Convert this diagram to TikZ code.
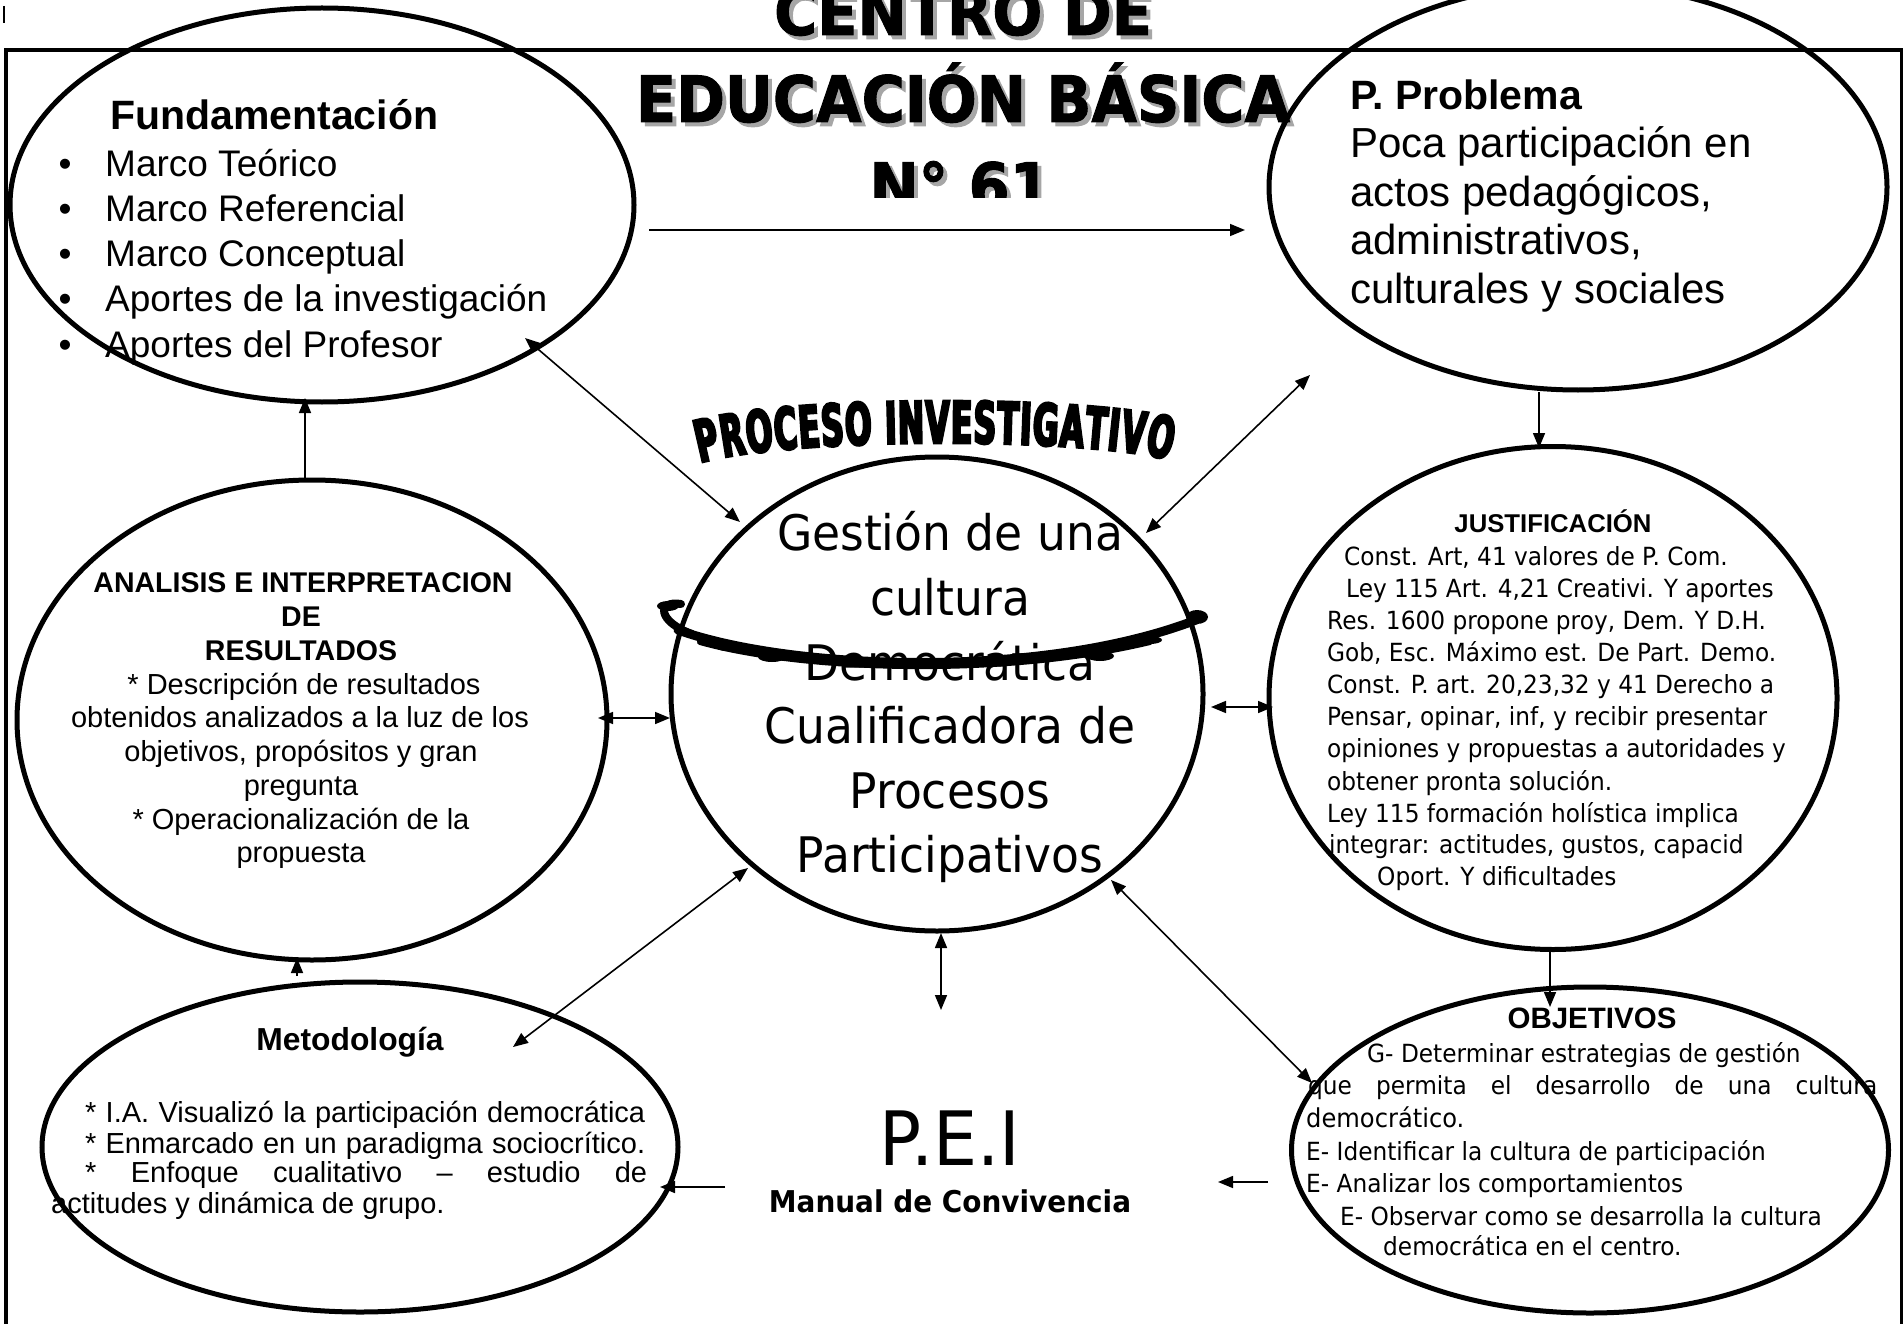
\documentclass[tikz,border=0pt]{standalone}
\usepackage{fontspec}
\setmainfont{Liberation Sans}
\newfontfamily\tah{DejaVu Sans}[FakeStretch=0.93]
\newfontfamily\ttlfont{DejaVu Sans}[FakeStretch=0.92, BoldFeatures={FakeBold=1.5}]
\newfontfamily\wafont{DejaVu Sans}[FakeStretch=0.54, BoldFeatures={FakeBold=4}]
\usetikzlibrary{shapes.geometric,arrows.meta,decorations.text}
\newcommand\fsz[1]{\fontsize{#1}{#1}\selectfont}
\begin{document}
\begin{tikzpicture}[x=1pt,y=-1pt,
  oval/.style={draw, ellipse, line width=5pt, inner sep=0pt},
  conn/.style={line width=1.6pt, -{Triangle[length=15pt,width=12pt]}},
  biconn/.style={line width=1.6pt, {Triangle[length=15pt,width=12pt]}-{Triangle[length=15pt,width=12pt]}},
  txt/.style={inner sep=0pt, anchor=base west},
  ctxt/.style={inner sep=0pt, anchor=base},
  shadowtxt/.style={inner sep=0pt, anchor=base, text=black!35},
  ttl/.style={font=\ttlfont\bfseries\fsz{64}},
  squig/.style={line cap=round, line join=round},
]
\useasboundingbox (0,0) rectangle (1903,1324);
\fill[white] (0,0) rectangle (1903,1324);

% frame
\draw[line width=4pt] (6,1330) -- (6,50) -- (1905,50);
\draw[line width=3pt] (1901,50) -- (1901,1330);
\draw[line width=1.5pt] (4,6) -- (4,23);

% title
\node[shadowtxt, ttl] (t1s) at (967,39) {CENTRO DE};
\node[ctxt, ttl] (t1) at (963,35) {CENTRO DE};
\node[shadowtxt, ttl] (t2s) at (967,126) {EDUCACIÓN BÁSICA};
\node[ctxt, ttl] (t2) at (963,122) {EDUCACIÓN BÁSICA};
\begin{scope}
\clip (700,140) rectangle (1200,198);
\node[shadowtxt, ttl] (t3s) at (964,213) {N° 61};
\node[ctxt, ttl] (t3) at (960,209) {N° 61};
\end{scope}

% ellipses
\node[oval, minimum width=624pt, minimum height=394pt] (fund) at (322,205) {};
\node[oval, minimum width=618pt, minimum height=406pt] (pp) at (1578,187) {};
\node[oval, minimum width=590pt, minimum height=480pt] (anal) at (312,720) {};
\node[oval, minimum width=532pt, minimum height=474pt] (gest) at (937,694) {};
\node[oval, minimum width=568pt, minimum height=503pt] (just) at (1553,698) {};
\node[oval, minimum width=636pt, minimum height=330pt] (meto) at (360,1147) {};
\node[oval, minimum width=597pt, minimum height=326pt] (obj) at (1590,1150) {};

% Fundamentacion
\node[txt, font=\bfseries\fsz{41}] (fundT) at (110,130) {Fundamentación};
\node[ctxt, font=\fsz{37}] (fb1) at (65,177) {•};
\node[ctxt, font=\fsz{37}] (fb2) at (65,222) {•};
\node[ctxt, font=\fsz{37}] (fb3) at (65,267) {•};
\node[ctxt, font=\fsz{37}] (fb4) at (65,312) {•};
\node[ctxt, font=\fsz{37}] (fb5) at (65,357) {•};
\node[txt, font=\fsz{37}] (f1) at (105,177) {Marco Teórico};
\node[txt, font=\fsz{37}] (f2) at (105,222) {Marco Referencial};
\node[txt, font=\fsz{37}] (f3) at (105,267) {Marco Conceptual};
\node[txt, font=\fsz{37}] (f4) at (105,312) {Aportes de la investigación};
\node[txt, font=\fsz{37}] (f5) at (105,357) {Aportes del Profesor};

% P. Problema
\node[txt, font=\bfseries\fsz{41}] (ppT) at (1350,110) {P. Problema};
\node[txt, font=\fsz{42}] (p1) at (1350,158) {Poca participación en};
\node[txt, font=\fsz{42}] (p2) at (1350,207) {actos pedagógicos,};
\node[txt, font=\fsz{42}] (p3) at (1350,255) {administrativos,};
\node[txt, font=\fsz{42}] (p4) at (1350,303) {culturales y sociales};

% Analisis
\node[ctxt, font=\bfseries\fsz{28.5}] (aT1) at (303,592) {ANALISIS E INTERPRETACION};
\node[ctxt, font=\bfseries\fsz{28.5}] (aT2) at (301,626) {DE};
\node[ctxt, font=\bfseries\fsz{28.5}] (aT3) at (301,660) {RESULTADOS};
\node[ctxt, font=\fsz{29}] (a1) at (304,694) {* Descripción de resultados};
\node[ctxt, font=\fsz{29}] (a2) at (300,727) {obtenidos analizados a la luz de los};
\node[ctxt, font=\fsz{29}] (a3) at (301,761) {objetivos, propósitos y gran};
\node[ctxt, font=\fsz{29}] (a4) at (301,795) {pregunta};
\node[ctxt, font=\fsz{29}] (a5) at (301,829) {* Operacionalización de la};
\node[ctxt, font=\fsz{29}] (a6) at (301,862) {propuesta};

% Gestion
\node[ctxt, font=\tah\fsz{49}] (g1) at (950,550) {Gestión de una};
\node[ctxt, font=\tah\fsz{49}] (g2) at (950,615) {cultura};
\node[ctxt, font=\tah\fsz{49}] (g3) at (950,680) {Democrática};
\node[ctxt, font=\tah\fsz{49}] (g4) at (950,743) {Cualificadora de};
\node[ctxt, font=\tah\fsz{49}] (g5) at (950,808) {Procesos};
\node[ctxt, font=\tah\fsz{49}] (g6) at (950,872) {Participativos};

% squiggle over Gestion
\draw[squig, line width=9pt] (678,630) .. controls (790,670) and (1040,680) .. (1196,620);
\draw[squig, line width=6pt] (700,642) .. controls (800,670) and (1000,678) .. (1150,642);
\draw[squig, line width=8pt] (681,604) .. controls (656,600) and (658,622) .. (692,634);
\fill (668,606) ellipse (11 and 5);
\fill (1197,617) ellipse (11 and 7);
\fill (727,646) ellipse (12 and 5);
\fill (772,657) ellipse (14 and 5);
\fill (1100,656) ellipse (14 and 5);
\fill (1150,640) ellipse (12 and 4);

% PROCESO INVESTIGATIVO
\path[decorate, decoration={text along path,
   text={|\wafont\bfseries\fsz{58}|PROCESO INVESTIGATIVO},
   text align={fit to path}}]
  (700,463) .. controls (790,437) and (1080,437) .. (1170,460);

% Justificacion
\node[ctxt, font=\bfseries\fsz{25.7}] (jT) at (1553,532) {JUSTIFICACIÓN};
\node[txt, font=\tah\fsz{25}] (j1) at (1344,565) {Const. Art, 41 valores de P. Com.};
\node[txt, font=\tah\fsz{25}] (j2) at (1346,597) {Ley 115 Art. 4,21 Creativi. Y aportes};
\node[txt, font=\tah\fsz{25}] (j3) at (1327,629) {Res. 1600 propone proy, Dem. Y D.H.};
\node[txt, font=\tah\fsz{25}] (j4) at (1327,661) {Gob, Esc. Máximo est. De Part. Demo.};
\node[txt, font=\tah\fsz{25}] (j5) at (1327,693) {Const. P. art. 20,23,32 y 41 Derecho a};
\node[txt, font=\tah\fsz{25}] (j6) at (1327,725) {Pensar, opinar, inf, y recibir presentar};
\node[txt, font=\tah\fsz{25}] (j7) at (1327,757) {opiniones y propuestas a autoridades y};
\node[txt, font=\tah\fsz{25}] (j8) at (1327,790) {obtener pronta solución.};
\node[txt, font=\tah\fsz{25}] (j9) at (1327,822) {Ley 115 formación holística implica};
\node[txt, font=\tah\fsz{25}] (j10) at (1329,853) {integrar: actitudes, gustos, capacid};
\node[txt, font=\tah\fsz{25}] (j11) at (1377,885) {Oport. Y dificultades};

% Objetivos
\node[ctxt, font=\bfseries\fsz{29.5}] (oT) at (1592,1028) {OBJETIVOS};
\node[txt, font=\tah\fsz{25}] (o1) at (1367,1062) {G- Determinar estrategias de gestión};
\node[txt, font=\tah\fsz{25}] (o2) at (1308,1094) {\makebox[569pt][s]{que permita el desarrollo de una cultura}};
\node[txt, font=\tah\fsz{26}] (o3) at (1306,1127) {democrático.};
\node[txt, font=\tah\fsz{25}] (o4) at (1306,1160) {E- Identificar la cultura de participación};
\node[txt, font=\tah\fsz{25}] (o5) at (1306,1192) {E- Analizar los comportamientos};
\node[txt, font=\tah\fsz{25}] (o6) at (1340,1225) {E- Observar como se desarrolla la cultura};
\node[txt, font=\tah\fsz{25}] (o7) at (1383,1255) {democrática en el centro.};

% Metodologia
\node[ctxt, font=\bfseries\fsz{31.8}] (mT) at (350,1050) {Metodología};
\node[txt, font=\fsz{29}] (m1) at (85,1122) {\makebox[560pt][s]{* I.A. Visualizó la participación democrática}};
\node[txt, font=\fsz{29}] (m2) at (85,1153) {\makebox[560pt][s]{* Enmarcado en un paradigma sociocrítico.}};
\node[txt, font=\fsz{29}] (m3) at (85,1182) {\makebox[562pt][s]{* Enfoque cualitativo – estudio de}};
\node[txt, font=\fsz{29}] (m4) at (51,1213) {actitudes y dinámica de grupo.};

% PEI
\node[ctxt, font=\tah\fsz{75}] (pei) at (950,1165) {P.E.I};
\node[ctxt, font=\tah\bfseries\fsz{30}] (manual) at (950,1212) {Manual de Convivencia};

% connector end points
\coordinate (c1a) at (649,230);   \coordinate (c1b) at (1245,230);
\coordinate (c2a) at (305,480);   \coordinate (c2b) at (305,398);
\coordinate (c3a) at (297,976);   \coordinate (c3b) at (297,958);
\coordinate (c4a) at (525,338);   \coordinate (c4b) at (740,522);
\coordinate (c5a) at (1310,375);  \coordinate (c5b) at (1146,533);
\coordinate (c6a) at (598,718);   \coordinate (c6b) at (670,718);
\coordinate (c7a) at (1211,707);  \coordinate (c7b) at (1273,707);
\coordinate (c8a) at (1539,392);  \coordinate (c8b) at (1539,448);
\coordinate (c9a) at (1550,952);  \coordinate (c9b) at (1550,1007);
\coordinate (c10a) at (1111,880); \coordinate (c10b) at (1312,1083);
\coordinate (c11a) at (1268,1182);\coordinate (c11b) at (1218,1182);
\coordinate (c12a) at (725,1187); \coordinate (c12b) at (660,1187);
\coordinate (c13a) at (941,933);  \coordinate (c13b) at (941,1010);
\coordinate (c14a) at (513,1047); \coordinate (c14b) at (748,868);

\draw[conn] (c1a) -- (c1b);
\draw[conn] (c2a) -- (c2b);
\draw[conn] (c3a) -- (c3b);
\draw[biconn] (c4a) -- (c4b);
\draw[biconn] (c5a) -- (c5b);
\draw[biconn] (c6a) -- (c6b);
\draw[biconn] (c7a) -- (c7b);
\draw[conn] (c8a) -- (c8b);
\draw[conn] (c9a) -- (c9b);
\draw[biconn] (c10a) -- (c10b);
\draw[conn] (c11a) -- (c11b);
\draw[conn] (c12a) -- (c12b);
\draw[biconn] (c13a) -- (c13b);
\draw[biconn] (c14a) -- (c14b);
\end{tikzpicture}
\end{document}
